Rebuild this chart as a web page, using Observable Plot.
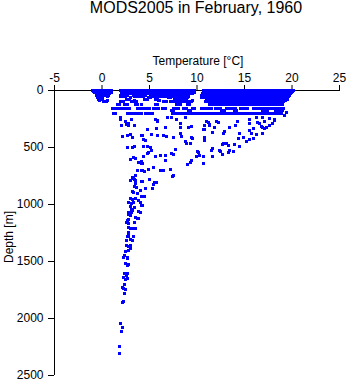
<!DOCTYPE html>
<html>
<head>
<meta charset="utf-8">
<script src="https://cdn.jsdelivr.net/npm/d3@7"></script>
<script src="https://cdn.jsdelivr.net/npm/@observablehq/plot@0.6"></script>
<style>
  html, body { margin: 0; padding: 0; background: #fff; }
  #wrap { position: relative; width: 348px; height: 384px; font-family: "Liberation Sans", Arial, Helvetica, sans-serif; color: #000; }
  #title { position: absolute; top: 0px; left: 196px; transform: translateX(-50%); white-space: nowrap; font-size: 16px; line-height: 16px; }
  #xlabel { position: absolute; top: 55px; left: 198px; transform: translateX(-50%); white-space: nowrap; font-size: 12px; line-height: 12px; }
  #ylabel { position: absolute; top: 237px; left: 8.5px; transform: translate(-50%, -50%) rotate(-90deg); white-space: nowrap; font-size: 12px; line-height: 12px; }
  #chart { position: absolute; top: 0; left: 0; }
  #chart svg g[aria-label="dot"] path { shape-rendering: crispEdges; }
</style>
</head>
<body>
<div id="wrap">
  <div id="chart"></div>
  <div id="title">MODS2005 in February, 1960</div>
  <div id="xlabel">Temperature [°C]</div>
  <div id="ylabel">Depth [m]</div>
</div>
<script>
// Tick labels
const xTicks = [-5, 0, 5, 10, 15, 20, 25];
const yTicks = [0, 500, 1000, 1500, 2000, 2500];

// Dense upper-ocean band: observed depths (m) and temperatures (°C) at each
const bandDepths = [0, 10, 20, 30, 40, 50, 60, 75, 90, 100, 125, 155, 175, 200];
const t0 = [-0.95,-0.7,-0.45,-0.2,0.2,0.45,0.7,0.95,2,2.25,2.5,2.75,3,3.25,3.5,3.75,4,4.25,4.5,4.75,5,5.25,5.5,5.75,6,6.25,6.5,6.75,7,7.25,7.5,7.75,8,8.25,8.5,8.75,9,9.25,9.5,9.75,10.65,10.9,11.15,11.4,11.65,11.9,12.15,12.4,12.65,12.9,13.15,13.4,13.65,13.9,14.15,14.4,14.65,14.9,15.15,15.4,15.65,15.9,16.15,16.4,16.65,16.9,17.15,17.4,17.65,17.9,18.15,18.4,18.65,18.9,19.15,19.4,19.65,19.9,20.15];
const t10 = [-0.85,-0.6,-0.35,-0.1,0.3,0.55,0.8,1.05,2.1,2.35,2.6,2.85,3.1,3.35,3.6,3.85,4.1,4.35,4.6,4.85,5.1,5.35,5.6,5.85,6.1,6.35,6.6,6.85,7.1,7.35,7.6,7.85,8.1,8.35,8.6,8.85,9.1,9.35,9.6,10.75,11,11.25,11.5,11.75,12,12.25,12.5,12.75,13,13.25,13.5,13.75,14,14.25,14.5,14.75,15,15.25,15.5,15.75,16,16.25,16.5,16.75,17,17.25,17.5,17.75,18,18.25,18.5,18.75,19,19.25,19.5,19.75,20];
const t20 = [-0.75,-0.5,-0.25,0.25,0.5,0.75,1,2.2,2.45,2.7,2.95,3.2,3.45,3.7,3.95,4.2,4.45,4.7,4.95,5.2,5.45,5.7,5.95,6.2,6.45,6.7,6.95,7.2,7.45,7.7,7.95,8.2,8.45,8.7,8.95,9.2,9.45,9.7,10.7,10.95,11.2,11.45,11.7,11.95,12.2,12.45,12.7,12.95,13.2,13.45,13.7,13.95,14.2,14.45,14.7,14.95,15.2,15.45,15.7,15.95,16.2,16.45,16.7,16.95,17.2,17.45,17.7,17.95,18.2,18.45,18.7,18.95,19.2,19.45,19.7,19.95];
const t30 = [-0.6,-0.35,-0.1,0.3,0.55,0.8,2.05,2.3,2.55,2.8,3.05,3.3,3.55,3.8,4.05,4.3,4.55,4.8,5.05,5.3,5.55,5.8,6.05,6.3,6.55,6.8,7.05,7.3,7.55,7.8,8.05,8.3,8.55,8.8,9.05,9.3,9.55,10.55,10.8,11.05,11.3,11.55,11.8,12.05,12.3,12.55,12.8,13.05,13.3,13.55,13.8,14.05,14.3,14.55,14.8,15.05,15.3,15.55,15.8,16.05,16.3,16.55,16.8,17.05,17.3,17.55,17.8,18.05,18.3,18.55,18.8,19.05,19.3,19.55,19.8];
const t40 = [-0.55,-0.3,-0.05,0.4,0.65,1.9,2.15,2.4,2.65,3.3,3.55,3.8,4.05,4.3,4.55,5.1,5.35,5.6,6.3,6.55,6.8,7.05,7.3,7.55,7.8,8.05,8.5,8.75,10.45,10.7,10.95,11.2,11.45,11.7,11.95,12.2,12.45,12.7,12.95,13.2,13.45,13.7,13.95,14.2,14.45,14.7,14.95,15.2,15.45,15.7,15.95,16.2,16.45,16.7,16.95,17.2,17.45,17.7,17.95,18.2,18.45,18.7,18.95,19.2,19.45,19.7];
const t50 = [-0.5,-0.25,0,0.6,2,2.25,2.5,3.4,3.65,3.9,4.15,4.4,5.2,5.45,5.7,5.95,6.2,6.45,6.7,7.4,7.65,7.9,8.15,8.4,8.65,8.9,9.15,10.6,10.85,11.1,11.35,11.6,11.85,12.1,12.35,12.6,12.85,13.1,13.35,13.6,13.85,14.1,14.35,14.6,14.85,15.1,15.35,15.6,15.85,16.1,16.35,16.6,16.85,17.1,17.35,17.6,17.85,18.1,18.35,18.6,18.85,19.1,19.35,19.6];
const t60 = [-0.45,-0.2,3,4.9,5.15,7,7.25,8,8.25,9,10.5,10.7,10.95,11.2,11.45,11.7,11.95,12.2,12.45,12.7,12.95,13.2,13.45,13.7,13.95,14.2,14.45,14.7,14.95,15.2,15.45,15.7,15.95,16.2,16.45,16.7,16.95,17.2,17.45,17.7,17.95,18.2,18.45,18.7,18.95,19.2,19.45];
const t75 = [-0.4,-0.15,0.1,2.6,2.85,4.5,4.75,5.6,5.85,7.6,7.85,8.1,8.35,8.6,8.85,11,11.25,11.5,11.75,12,12.25,12.5,12.75,13,13.25,13.5,13.75,14,14.25,14.5,14.75,15,15.25,15.5,15.75,16,16.25,16.5,16.75,17,17.25,17.5,17.75,18,18.25,18.5,18.75,19,19.25,19.5];
const t90 = [-0.3,0.6,3.4,6,8,8.3,9.5,11.1,11.35,11.6,11.85,12.1,12.35,12.6,12.85,13.1,13.35,13.6,13.85,14.1,14.35,14.6,14.85,15.1,15.35,15.6,15.85,16.1,16.35,16.6,16.85,17.1,17.35,17.6,17.85,18.1,18.35,18.6,18.85,19.1,19.35];
const t100 = [0.2,0.45,2,2.25,3.1,3.35,3.6,6.5,6.75,7.2,7.45,7.7,7.95,8.2,8.45,8.7,8.95,9.2,9.45,10.9,11.15,11.4,11.65,11.9,12.15,12.4,12.65,12.9,13.15,13.4,13.65,13.9,14.15,14.4,14.65,14.9,15.15,15.4,15.65,15.9,16.15,16.4,16.65,16.9,17.15,17.4,17.65,17.9,18.15,18.4,18.65,18.9,19.15];
const t125 = [1.6,1.85,2.4,2.65,3.5,3.75,4.2,5.6,5.85,7.8,8.05,8.3,9,9.25,11.3,11.55,11.8,12.05,12.3,12.55,12.8,13.05,13.3,13.55,13.8,14.05,14.3,14.55,14.8,15.05,15.3,15.55,15.8,16.05,16.3,16.55,16.8,17.05,17.3,17.55,17.8,18.05,18.3,18.55,18.8,19.05];
const t155 = [1.1,1.35,1.6,1.85,2.1,2.35,2.6,2.85,3.7,3.95,4.2,4.45,4.7,4.95,5.4,5.65,5.9,6.4,6.65,7.5,7.75,8,8.6,8.85,9.5,9.75,10.5,10.75,11,11.25,11.5,12,12.25,12.5,13.1,13.35,13.6,13.85,14.1,14.6,14.85,15.1,15.35,15.9,16.15,16.4,16.65,16.9,17.15,17.4,17.65,17.9,18.15,18.4,18.65,18.9,19.15];
const t175 = [7.3,7.55,9.1,9.35,12.6,12.85,13.9,14.15,16.9,17.15,17.4,18.3,18.55,18.8,19.05];
const t200 = [1.2,1.45,2.7,2.95,3.2,3.45,3.7,3.95,4.2,4.6,4.85,5.1,5.35,7.4,7.65,7.9,8.15,8.4,8.65,8.9,9.15,9.4,9.65,9.9,10.15,10.4,10.65,10.9,11.15,11.4,11.65,11.9,12.15,12.4,12.65,12.9,13.15,13.4,13.65,13.9,14.15,14.4,14.65,14.9,15.15,15.4,15.65,15.9,16.15,16.4,16.65,16.9,17.15,17.4,17.65,17.9,18.15,18.4,18.65,18.9];
const bandTemps = [t0, t10, t20, t30, t40, t50, t60, t75, t90, t100, t125, t155, t175, t200];

// Scattered deeper observations: temperature (°C) and depth (m), paired by index
const scatterTemp = [
  1.94,2.46,3.09,5.68,6.93,7.35,7.87,8.74,11.0,12.06,14.3,15.55,16.25,18.17,17.1,1.9,5.8,16.9,17.6,19.2,19.4,
  2.04,2.53,2.74,2.81,3.40,4.84,5.81,5.78,6.72,8.22,8.25,9.45,9.09,10.84,11.18,11.36,11.68,2.12,2.67,3.02,3.16,4.21,4.35,4.55,5.18,5.81,6.47,6.83,7.52,8.22,8.32,9.45,9.51,8.74,8.92,9.27,10.84,11.54,2.64,3.16,3.43,4.38,4.80,5.08,5.18,4.90,4.84,4.38,5.60,6.13,6.65,7.28,7.52,7.70,2.98,3.33,3.51,3.85,4.14,4.21,6.72,6.13,6.47,7.17,3.69,4.21,4.48,4.90,5.42,3.51,3.33,3.16,3.43,4.97,7.52,9.03,9.27,9.37,9.97,10.14,10.07,10.66,11.60,10.84,
  11.29,10.66,10.84,11.88,12.23,12.86,12.75,13.46,14.08,14.50,15.48,15.55,15.73,15.90,16.25,16.42,16.60,16.77,16.94,17.12,17.30,17.64,17.93,18.17,16.94,14.32,14.92,15.48,15.90,15.20,13.98,14.43,12.83,13.11,13.28,12.65,12.34,12.48,13.38,13.28,13.87,11.60,12.65,10.73,10.31,
  7.41,3.16,2.98,3.51,4.21,5.53,5.78,5.42,3.51,3.43,3.58,4.63,5.32,4.03,3.16,3.33,3.69,4.21,4.48,2.98,3.22,3.51,3.85,4.03,2.81,3.09,3.33,4.21,2.98,3.43,3.09,3.22,2.81,3.09,3.85,4.03,2.74,2.98,3.51,3.79,2.64,2.81,2.53,2.74,3.43,2.81,2.98,3.33,3.51,2.74,2.81,
  2.64,2.81,3.33,2.98,3.16,2.53,2.53,2.81,2.98,2.98,2.81,2.46,2.39,2.28,2.64,2.69,2.46,2.64,2.81,2.39,2.53,2.64,2.28,2.46,2.64,2.39,2.18,2.28,2.46,2.39,2.12,2.28,1.94,2.12,2.04,1.86,1.86
];
const scatterDepth = [
  240,269,254,254,240,240,254,240,269,275,269,254,240,254,269,257,263,240,246,215,190,
  307,298,287,307,304,345,272,336,325,292,322,313,322,307,278,307,366,404,395,386,410,395,432,439,386,395,395,404,410,380,404,410,424,445,468,462,410,526,497,503,491,491,491,503,526,541,555,579,579,570,570,555,561,520,608,590,599,629,620,643,614,702,702,696,702,702,708,696,678,746,766,775,783,778,746,649,629,614,579,541,532,638,579,439,
  300,345,345,322,278,357,380,327,307,375,292,351,380,336,386,278,287,316,322,336,322,307,292,263,375,424,415,432,424,445,474,491,462,468,482,474,526,532,526,541,532,511,561,579,570,
  752,760,789,789,798,804,804,827,818,839,848,857,857,877,886,892,906,927,927,950,956,950,965,980,985,994,985,1009,1015,1024,1044,1053,1068,1073,1061,1068,1090,1096,1111,1120,1140,1132,1161,1169,1161,1199,1208,1213,1208,1243,1257,
  1281,1281,1281,1310,1316,1316,1360,1368,1360,1389,1404,1410,1447,1462,1468,1476,1520,1535,1526,1608,1623,1608,1643,1661,1652,1702,1725,1739,1748,1778,1857,1848,2041,2076,2114,2246,2310
];

const rows = [];
bandDepths.forEach((d, i) => bandTemps[i].forEach(t => rows.push({t, d})));
scatterTemp.forEach((t, i) => rows.push({t, d: scatterDepth[i]}));

const chart = Plot.plot({
  width: 348,
  height: 384,
  marginLeft: 54,
  marginRight: 9,
  marginTop: 90,
  marginBottom: 9,
  style: { fontFamily: '"Liberation Sans", Arial, Helvetica, sans-serif', fontSize: "12px", background: "white", color: "black", overflow: "visible" },
  x: { domain: [-5, 25], axis: "top", ticks: xTicks, tickSize: 6, tickPadding: 3, tickFormat: d => String(d), label: null },
  y: { domain: [0, 2500], reverse: true, ticks: yTicks, tickSize: 6, tickPadding: 5, tickFormat: d => String(d), label: null },
  marks: [
    Plot.ruleY([0], { stroke: "black" }),
    Plot.ruleX([-5], { stroke: "black" }),
    Plot.dot(rows, { x: "t", y: "d", symbol: "square", r: 1.7, fill: "#0000ff", stroke: "none" })
  ]
});
document.getElementById("chart").appendChild(chart);
</script>
</body>
</html>
